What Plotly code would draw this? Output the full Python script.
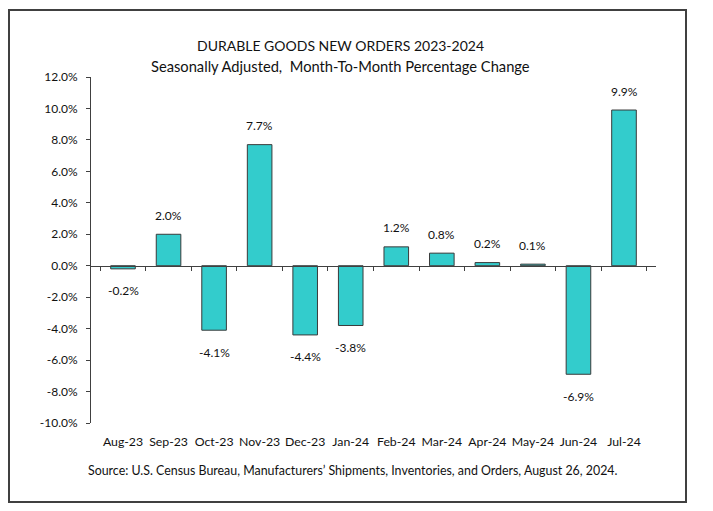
import plotly.graph_objects as go

# durable goods new orders, m/m % change (seasonally adjusted)
months = ["Aug-23", "Sep-23", "Oct-23", "Nov-23", "Dec-23", "Jan-24",
          "Feb-24", "Mar-24", "Apr-24", "May-24", "Jun-24", "Jul-24"]
pct_change = [-0.2, 2.0, -4.1, 7.7, -4.4, -3.8, 1.2, 0.8, 0.2, 0.1, -6.9, 9.9]
y_ticks = [-10, -8, -6, -4, -2, 0, 2, 4, 6, 8, 10, 12]

title = "DURABLE GOODS NEW ORDERS 2023-2024"
subtitle = "Seasonally Adjusted,&nbsp; Month-To-Month Percentage Change"
source = "Source: U.S. Census Bureau, Manufacturers\u2019 Shipments, Inventories, and Orders, August 26, 2024."

FONT = "Lato"
TXT = "#111111"

# page has ~8px body margin, so shift everything back by that
OFF = 8
W, H = 713 - OFF, 511 - OFF
# plot area in screen pixels (used only for placing frame / titles)
L, R, T, B = 91 - OFF, 656 - OFF, 77 - OFF, 423 - OFF


def px_x(p):
    return (p - OFF - L) / (R - L)


def px_y(p):
    return (B - (p - OFF)) / (B - T)


fig = go.Figure()

fig.add_trace(go.Bar(
    x=months, y=pct_change,
    marker=dict(color="#33CCCC", line=dict(color="#3a3a3a", width=1)),
    hoverinfo="x+y", showlegend=False,
))

# invisible trace so the zero-line axis gets drawn
fig.add_trace(go.Scatter(
    x=months, y=[0] * len(months), xaxis="x2", mode="markers",
    marker=dict(opacity=0), hoverinfo="skip", showlegend=False,
))

# value labels
for m, v in zip(months, pct_change):
    fig.add_annotation(
        x=m, y=v, text=f"{v:.1f}%", showarrow=False,
        yshift=19 if v >= 0 else -22,
        font=dict(family=FONT, size=12, color=TXT),
    )

fig.add_annotation(x=px_x(340), y=px_y(35), xref="paper", yref="paper",
                   text=title, showarrow=False,
                   font=dict(family=FONT, size=14, color=TXT))
fig.add_annotation(x=px_x(340), y=px_y(55), xref="paper", yref="paper",
                   text=subtitle, showarrow=False,
                   font=dict(family=FONT, size=14.7, color=TXT))
fig.add_annotation(x=px_x(353), y=px_y(480), xref="paper", yref="paper",
                   text=source, showarrow=False,
                   font=dict(family=FONT, size=12.4, color=TXT))

# outer frame
fig.add_shape(type="rect", xref="paper", yref="paper",
              x0=px_x(9), x1=px_x(686), y0=px_y(502), y1=px_y(10),
              line=dict(color="#404040", width=2), layer="below")

fig.update_layout(
    width=W, height=H,
    margin=dict(l=L, r=W - R, t=T, b=H - B),
    plot_bgcolor="white", paper_bgcolor="white",
    bargap=0.46,
    font=dict(family=FONT, size=12, color=TXT),
    xaxis=dict(showline=False, ticks="", showgrid=False, zeroline=False,
               ticklabelstandoff=10, tickfont=dict(size=12.3)),
    xaxis2=dict(overlaying="x", matches="x", anchor="free",
                position=(0 - y_ticks[0]) / (y_ticks[-1] - y_ticks[0]),
                showline=True, linecolor="#404040", linewidth=1,
                ticks="outside", ticklen=4, tickcolor="#404040",
                tickson="boundaries", showticklabels=False, showgrid=False),
    yaxis=dict(range=[y_ticks[0], y_ticks[-1]], tickvals=y_ticks,
               ticktext=[f"{t:.1f}%" for t in y_ticks],
               showline=True, linecolor="#404040", linewidth=1,
               ticks="outside", ticklen=4, tickcolor="#404040",
               showgrid=False, zeroline=False, ticklabelstandoff=6,
               tickfont=dict(size=12)),
)

fig.write_html("out.html")
